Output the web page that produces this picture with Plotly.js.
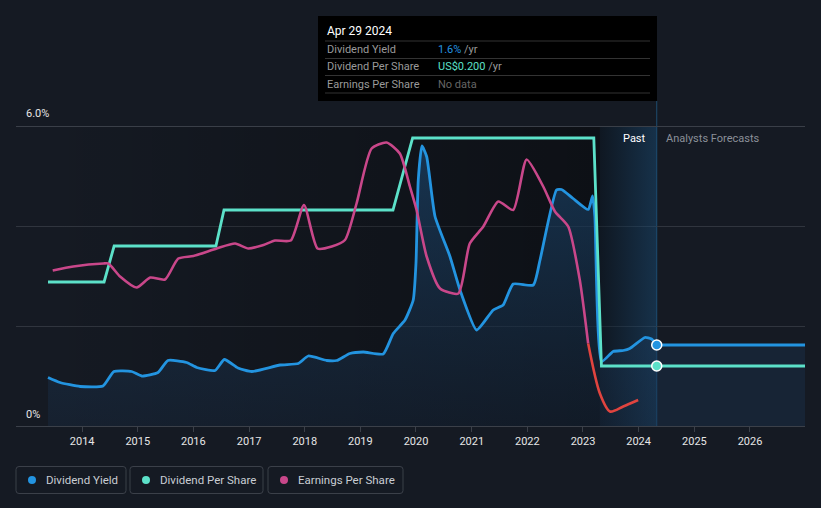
<!DOCTYPE html>
<html>
<head>
<meta charset="utf-8">
<script src="https://cdn.plot.ly/plotly-3.0.1.min.js"></script>
<style>
  html, body { margin: 0; padding: 0; background: #151a23; }
  #chart { width: 821px; height: 508px; }
</style>
</head>
<body>
<div id="chart"></div>
<script>
// ---------------- data ----------------
const yieldDates = ['2013-05-22','2013-08-09','2013-12-19','2014-05-18','2014-07-29','2014-11-22','2015-01-27','2015-05-14','2015-07-18','2015-11-18','2016-01-23','2016-05-22','2016-07-22','2016-10-20','2017-01-18','2017-07-23','2017-11-20','2018-01-24','2018-05-25','2018-07-29','2018-10-24','2019-01-20','2019-05-31','2019-08-05','2019-10-21','2019-12-14','2020-01-01','2020-01-16','2020-02-09','2020-03-11','2020-05-05','2020-08-11','2020-10-16','2021-02-02','2021-05-22','2021-07-26','2021-09-30','2022-02-09','2022-03-25','2022-07-11','2022-08-13','2022-10-28','2023-02-04','2023-03-05','2023-03-20','2023-05-03','2023-07-18','2023-09-22','2023-11-04','2024-02-11','2024-03-26','2024-04-29'];
const yieldValues = [0.97,0.87,0.79,0.80,1.09,1.09,1.00,1.07,1.31,1.27,1.17,1.11,1.33,1.16,1.09,1.22,1.25,1.40,1.31,1.31,1.45,1.48,1.44,1.85,2.12,2.52,3.26,4.92,5.60,5.39,4.19,3.39,2.72,1.92,2.32,2.42,2.84,2.82,3.32,4.72,4.73,4.55,4.33,4.60,4.19,1.29,1.49,1.51,1.55,1.77,1.74,1.62];
const forecastDates = ['2024-04-29','2026-12-28'];
const forecastYield = [1.62,1.62];

const dpsDates = ['2013-05-22','2014-05-25','2014-07-30','2016-05-28','2016-07-20','2019-08-03','2019-12-10','2023-03-13','2023-05-02','2024-04-29','2026-12-28'];
const dpsValues = [0.48,0.48,0.60,0.60,0.72,0.72,0.96,0.96,0.20,0.20,0.20];

const epsDates = ['2013-06-22','2013-11-04','2014-05-20','2014-06-22','2014-09-07','2014-12-25','2015-03-24','2015-06-29','2015-09-24','2016-01-01','2016-06-02','2016-10-01','2016-12-27','2017-04-05','2017-06-20','2017-10-01','2017-12-27','2018-03-26','2018-06-27','2018-09-22','2018-12-07','2019-03-16','2019-06-22','2019-09-17','2019-11-22','2020-01-05','2020-03-11','2020-06-07','2020-10-05','2020-12-19','2021-03-18','2021-06-24','2021-09-30','2021-12-27','2022-04-15','2022-07-01','2022-09-26','2022-12-11','2023-02-04'];
const epsValues = [3.11,3.19,3.25,3.25,2.99,2.77,2.97,2.93,3.35,3.40,3.55,3.65,3.55,3.62,3.71,3.71,4.42,3.55,3.59,3.72,4.45,5.55,5.67,5.45,4.79,4.32,3.39,2.75,2.65,3.65,3.99,4.49,4.32,5.33,4.79,4.29,3.99,2.92,1.65];
const epsDeclineDates = ['2023-02-04','2023-04-22','2023-06-27','2023-09-22','2023-12-29'];
const epsDeclineValues = [1.65,0.65,0.29,0.39,0.52];

const markerDates = ['2024-04-29'];
const markerYield = [1.62];
const markerDps = [0.20];

const tickDates = ['2014-01-01','2015-01-01','2016-01-01','2017-01-01','2018-01-01','2019-01-01','2020-01-01','2021-01-01','2022-01-01','2023-01-01','2024-01-01','2025-01-01','2026-01-01'];
const tickLabels = ['2014','2015','2016','2017','2018','2019','2020','2021','2022','2023','2024','2025','2026'];

const seriesNames = ['Dividend Yield','Dividend Per Share','Earnings Per Share'];
const seriesColors = ['#2394e0','#5ce1c9','#c9478a'];
const declineColor = '#e0443f';

const tooltipDate = 'Apr 29 2024';
const tooltipValues = ['1.6%','US$0.200','No data'];

const chartStart = '2013-05-22';
const darkEnd = '2023-04-22';
const pastDate = '2024-04-29';

// ---------------- geometry helpers ----------------
const W = 821, H = 508, ML = 16, MR = 16, MT = 126, MB = 82;
const PW = W - ML - MR, PH = H - MT - MB;
const xp = px => (px - ML) / PW;
const yp = py => (H - MB - py) / PH;
function roundRect(x0, y0, x1, y1, r) {
  const rx = r / PW, ry = r / PH;
  const a = xp(x0), b = xp(x1), c = yp(y0), d = yp(y1);
  return `M${a+rx},${c} L${b-rx},${c} Q${b},${c} ${b},${c-ry} L${b},${d+ry} Q${b},${d} ${b-rx},${d} L${a+rx},${d} Q${a},${d} ${a},${d+ry} L${a},${c-ry} Q${a},${c} ${a+rx},${c} Z`;
}

const FONT = 'Roboto, "Liberation Sans", sans-serif';
const fillGrad = { type: 'vertical', colorscale: [[0, 'rgba(25,45,70,0.35)'], [1, 'rgba(30,85,135,0.5)']] };

// ---------------- traces ----------------
const traces = [
  {
    x: [chartStart, darkEnd, darkEnd, chartStart], y: [0, 0, 6, 6],
    mode: 'none', fill: 'toself', hoverinfo: 'skip', showlegend: false,
    fillgradient: { type: 'horizontal', colorscale: [[0, 'rgba(0,0,0,0)'], [1, 'rgba(0,0,0,0.38)']] }
  },
  {
    x: [darkEnd, pastDate, pastDate, darkEnd], y: [0, 0, 6, 6],
    mode: 'none', fill: 'toself', hoverinfo: 'skip', showlegend: false,
    fillgradient: { type: 'horizontal', colorscale: [[0, 'rgba(8,20,32,0.45)'], [1, 'rgba(24,78,122,0.45)']] }
  },
  {
    name: seriesNames[2], x: epsDates, y: epsValues, yaxis: 'y3',
    mode: 'lines', line: { color: seriesColors[2], width: 2.6, shape: 'spline', smoothing: 0.6 },
    hoverinfo: 'skip', showlegend: false
  },
  {
    name: seriesNames[2] + ' decline', x: epsDeclineDates, y: epsDeclineValues, yaxis: 'y3',
    mode: 'lines', line: { color: declineColor, width: 2.6, shape: 'spline', smoothing: 0.8 },
    hoverinfo: 'skip', showlegend: false
  },
  {
    name: seriesNames[0], x: yieldDates, y: yieldValues,
    mode: 'lines', line: { color: seriesColors[0], width: 2.8, shape: 'spline', smoothing: 0.5 },
    fill: 'tozeroy', fillgradient: fillGrad,
    hoverinfo: 'skip', showlegend: false
  },
  {
    name: seriesNames[0] + ' forecast', x: forecastDates, y: forecastYield,
    mode: 'lines', line: { color: seriesColors[0], width: 2.8 },
    fill: 'tozeroy', fillcolor: 'rgba(30,60,95,0.3)',
    hoverinfo: 'skip', showlegend: false
  },
  {
    name: seriesNames[1], x: dpsDates, y: dpsValues, yaxis: 'y2',
    mode: 'lines', line: { color: seriesColors[1], width: 2.8 },
    hoverinfo: 'skip', showlegend: false
  },
  {
    x: markerDates, y: markerYield, mode: 'markers', fill: 'none', cliponaxis: false,
    marker: { symbol: 'circle', color: seriesColors[0], size: 10, line: { color: '#ffffff', width: 1.5 } },
    hoverinfo: 'skip', showlegend: false
  },
  {
    x: markerDates, y: markerDps, yaxis: 'y2', mode: 'markers', fill: 'none', cliponaxis: false,
    marker: { symbol: 'circle', color: seriesColors[1], size: 10, line: { color: '#ffffff', width: 1.5 } },
    hoverinfo: 'skip', showlegend: false
  }
];

// ---------------- shapes & annotations ----------------
const shapes = [
  { type: 'line', xref: 'paper', yref: 'paper', x0: 0, x1: 1, y0: yp(126.5), y1: yp(126.5), layer: 'above',
    line: { color: '#3a3f48', width: 1 } },
  { type: 'line', xref: 'x', yref: 'paper', x0: pastDate, x1: pastDate, y0: 0, y1: yp(101), layer: 'below',
    line: { color: '#1d4c70', width: 1 } },
  { type: 'rect', xref: 'paper', yref: 'paper', x0: xp(318), x1: xp(657), y0: yp(101), y1: yp(16),
    fillcolor: '#000000', line: { width: 0 } }
];
[41, 58.5, 75.5, 93].forEach(py => shapes.push({
  type: 'line', xref: 'paper', yref: 'paper', x0: xp(325), x1: xp(650), y0: yp(py), y1: yp(py),
  line: { color: '#333333', width: 1 }
}));

const legendBoxes = [[16, 126], [130, 263], [268, 403]];
const legendDotX = [32, 146, 284];
const legendTextX = [44, 158, 296];
legendBoxes.forEach((b, i) => {
  shapes.push({ type: 'path', xref: 'paper', yref: 'paper', path: roundRect(b[0], 466.5, b[1], 493.5, 3),
    line: { color: '#3b4049', width: 1 }, fillcolor: 'rgba(0,0,0,0)' });
  shapes.push({ type: 'circle', xref: 'paper', yref: 'paper',
    x0: xp(legendDotX[i] - 4), x1: xp(legendDotX[i] + 4), y0: yp(484), y1: yp(476),
    fillcolor: seriesColors[i], line: { width: 0 } });
});

const ann = (px, py, text, color, size, anchor) => ({
  xref: 'paper', yref: 'paper', x: xp(px), y: yp(py), text: text, showarrow: false,
  xanchor: anchor || 'left', yanchor: 'middle', font: { family: FONT, size: size, color: color }
});

const annotations = [
  ann(24, 114, '6.0%', '#e6e6e6', 11),
  ann(24, 414, '0%', '#e6e6e6', 11),
  ann(648, 138, 'Past', '#ffffff', 11, 'right'),
  ann(664, 138, 'Analysts Forecasts', '#8b9099', 11),
  ann(325, 31, tooltipDate, '#ffffff', 12),
  ann(325, 49.5, seriesNames[0], '#9a9a9a', 11),
  ann(325, 66.5, seriesNames[1], '#9a9a9a', 11),
  ann(325, 84.5, seriesNames[2], '#9a9a9a', 11),
  ann(436, 49.5, '<span style="color:' + seriesColors[0] + '">' + tooltipValues[0] + '</span> /yr', '#9a9a9a', 11),
  ann(436, 66.5, '<span style="color:' + seriesColors[1] + '">' + tooltipValues[1] + '</span> /yr', '#9a9a9a', 11),
  ann(436, 84.5, tooltipValues[2], '#666666', 11)
];
seriesNames.forEach((n, i) => annotations.push(ann(legendTextX[i], 480, n, '#c9cdd3', 11.5)));

// ---------------- layout ----------------
const layout = {
  width: W, height: H,
  margin: { l: ML, r: MR, t: MT, b: MB, pad: 0 },
  paper_bgcolor: '#151a23', plot_bgcolor: '#151a23',
  font: { family: FONT, color: '#e6e6e6', size: 11 },
  showlegend: false,
  xaxis: {
    type: 'date', range: ['2012-10-24', '2026-12-28'],
    tickvals: tickDates, ticktext: tickLabels,
    showgrid: false, zeroline: false,
    showline: true, linecolor: '#3b4049', linewidth: 1,
    ticks: 'outside', ticklen: 5, tickcolor: '#3b4049',
    tickfont: { family: FONT, size: 11, color: '#e6e6e6' }
  },
  yaxis: {
    range: [0, 6], tickvals: [0, 2, 4], showticklabels: false,
    showgrid: true, gridcolor: '#30353e', gridwidth: 1, zeroline: false, fixedrange: true
  },
  yaxis2: { range: [0, 1], overlaying: 'y', visible: false },
  yaxis3: { range: [0, 6], overlaying: 'y', visible: false },
  shapes: shapes,
  annotations: annotations
};

Plotly.newPlot('chart', traces, layout, { displayModeBar: false, staticPlot: true });
</script>
</body>
</html>
